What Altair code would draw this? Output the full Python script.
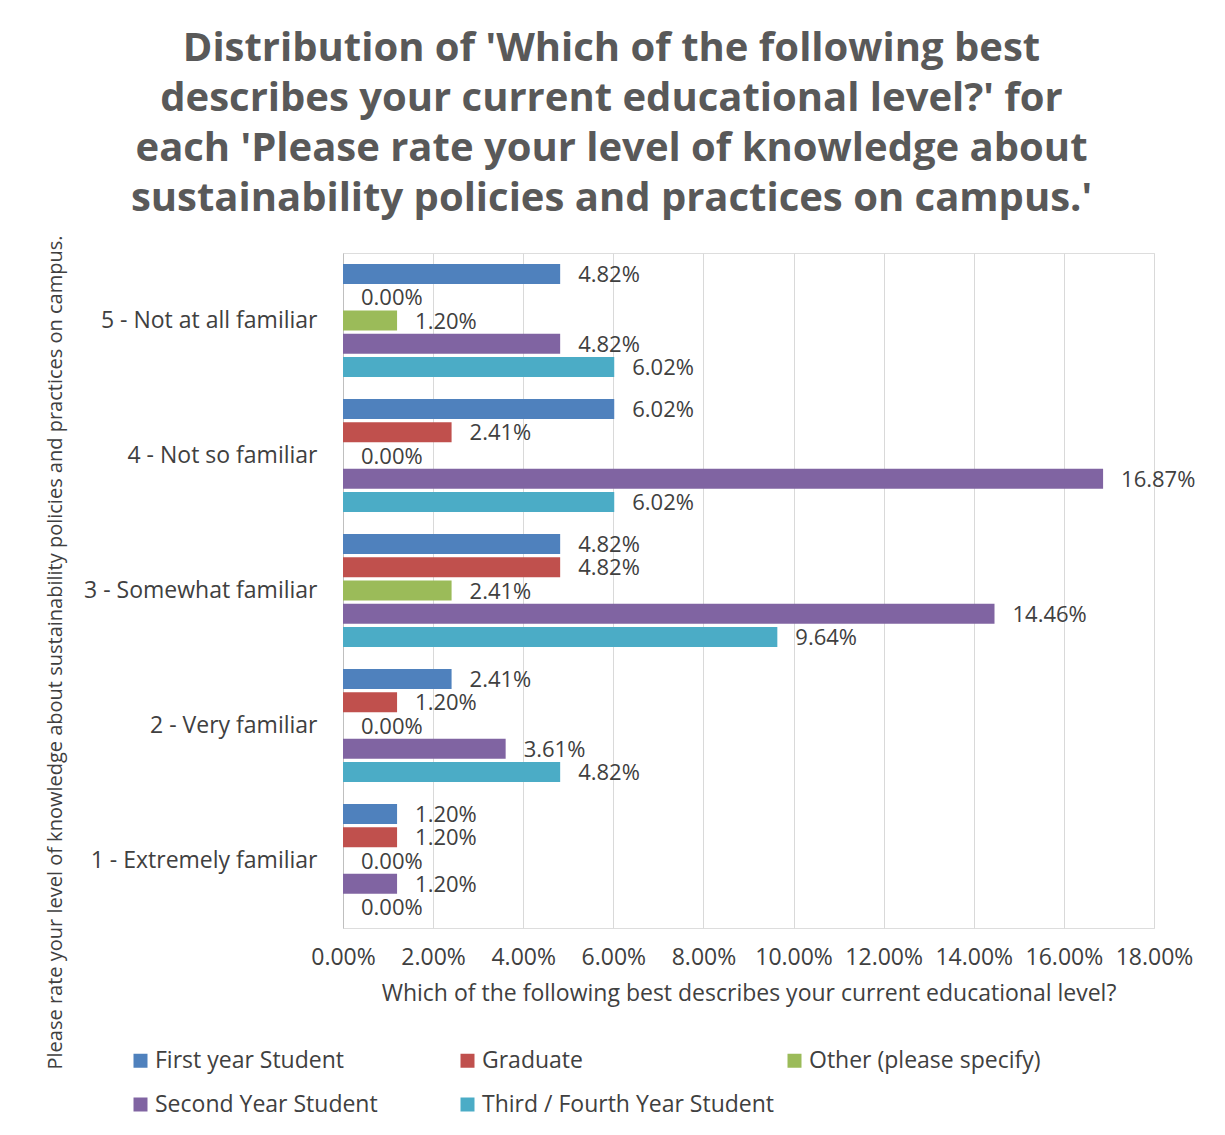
import altair as alt
import pandas as pd

categories = ["5 - Not at all familiar", "4 - Not so familiar", "3 - Somewhat familiar",
              "2 - Very familiar", "1 - Extremely familiar"]
series = ["First year Student", "Graduate", "Other (please specify)",
          "Second Year Student", "Third / Fourth Year Student"]
colors = ["#4F81BD", "#C0504D", "#9BBB59", "#8064A2", "#4BACC6"]

# percent values per series, in category order above
first_year = [4.82, 6.02, 4.82, 2.41, 1.20]
graduate = [0.00, 2.41, 4.82, 1.20, 1.20]
other = [1.20, 0.00, 2.41, 0.00, 0.00]
second_year = [4.82, 16.87, 14.46, 3.61, 1.20]
third_fourth = [6.02, 6.02, 9.64, 4.82, 0.00]
x_ticks = [0, 2, 4, 6, 8, 10, 12, 14, 16, 18]

title_lines = [
    "Distribution of 'Which of the following best",
    "describes your current educational level?' for",
    "each 'Please rate your level of knowledge about",
    "sustainability policies and practices on campus.'",
]
x_title = "Which of the following best describes your current educational level?"
y_title = "Please rate your level of knowledge about sustainability policies and practices on campus."

rows = []
for s, vals in zip(series, [first_year, graduate, other, second_year, third_fourth]):
    for c, v in zip(categories, vals):
        rows.append({"category": c, "series": s, "pct": v})
df = pd.DataFrame(rows)

FONT = "Open Sans"
TXT = "#404040"
FS = 23

base = alt.Chart(df).transform_calculate(frac="datum.pct / 100")

x_enc = alt.X(
    "frac:Q",
    scale=alt.Scale(domain=[0, 0.18], nice=False, zero=True),
    axis=alt.Axis(
        values=[t / 100 for t in x_ticks], format=".2%", grid=True, gridColor="#d9d9d9",
        domain=False, ticks=False, labelPadding=18, labelFontSize=FS, labelColor=TXT,
        labelFont=FONT, labelOverlap=False, labelFlush=False,
        title=x_title, titleFontSize=FS, titleFontWeight="normal",
        titleColor=TXT, titleFont=FONT, titlePadding=13,
    ),
)
y_enc = alt.Y(
    "category:N", sort=categories,
    scale=alt.Scale(paddingInner=0.163, paddingOuter=0.0815),
    axis=alt.Axis(
        domain=True, domainColor="#bfbfbf", ticks=False, labelPadding=26,
        labelFontSize=FS, labelColor=TXT, labelFont=FONT, labelLimit=400, title=y_title,
        titleFontSize=20, titleFontWeight="normal", titleColor=TXT, titleFont=FONT,
        titleAngle=270, titleX=-288, titleY=399, titleAlign="center", titleBaseline="middle",
    ),
)
yoff = alt.YOffset("series:N", sort=series, scale=alt.Scale(paddingInner=0.14, paddingOuter=0))

bars = base.mark_bar().encode(
    x=x_enc, y=y_enc, yOffset=yoff,
    color=alt.Color(
        "series:N", sort=series, scale=alt.Scale(domain=series, range=colors),
        legend=alt.Legend(
            title=None, orient="none", legendX=-214, legendY=796, columns=3,
            direction="horizontal", symbolType="square", symbolSize=196,
            symbolStrokeWidth=0, labelFontSize=FS, labelColor=TXT, labelFont=FONT,
            gridAlign="all", columnPadding=8, rowPadding=20, labelOffset=3,
            labelLimit=400,
        ),
    ),
)
labels = base.mark_text(align="left", baseline="middle", dx=18, dy=1, fontSize=22,
                        color=TXT, font=FONT).encode(
    x=alt.X("frac:Q"), y=alt.Y("category:N", sort=categories), yOffset=yoff,
    text=alt.Text("frac:Q", format=".2%"),
)

chart = alt.layer(bars, labels).properties(
    width=811, height=675,
    autosize=alt.AutoSizeParams(type="none"),
    padding={"left": 335, "top": 245, "right": 62, "bottom": 198},
    title=alt.TitleParams(
        text=title_lines, fontSize=40, fontWeight="bold", color="#595959", font=FONT,
        anchor="middle", frame="group", dx=-137, lineHeight=50, offset=16,
    ),
).configure_view(stroke=None).configure(background="white")

chart.save("out.html", embed_options={"renderer": "svg", "actions": False})
